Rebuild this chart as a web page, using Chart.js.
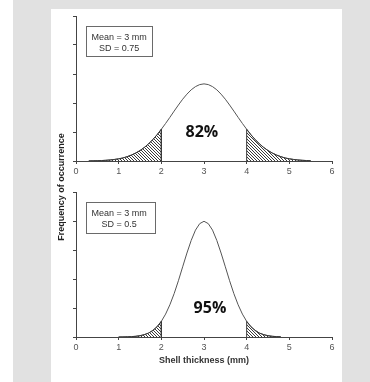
<!DOCTYPE html>
<html><head><meta charset="utf-8">
<script src="https://cdn.jsdelivr.net/npm/chart.js@4.4.1/dist/chart.umd.min.js"></script>
<style>
html,body{margin:0;padding:0;width:370px;height:382px;overflow:hidden;background:#fff;}
#bg{position:absolute;left:13px;top:0;width:357px;height:382px;background:#e1e1e1;}
#panel{position:absolute;left:51px;top:9px;width:291px;height:373px;background:#fff;}
.wrap{position:absolute;left:0;top:0;width:370px;height:382px;}
</style></head><body>
<div id="bg"></div><div id="panel"></div>
<div class="wrap"><canvas id="c1" width="370" height="382"></canvas></div>
<div class="wrap"><canvas id="c2" width="370" height="382"></canvas></div>
<script>
// ---- data ----
const thicknessTop = [0.3,0.4,0.5,0.6,0.7,0.8,0.9,1.0,1.1,1.2,1.3,1.4,1.5,1.6,1.7,1.8,1.9,2.0,2.1,2.2,2.3,2.4,2.5,2.6,2.7,2.8,2.9,3.0,
  3.1,3.2,3.3,3.4,3.5,3.6,3.7,3.8,3.9,4.0,4.1,4.2,4.3,4.4,4.5,4.6,4.7,4.8,4.9,5.0,5.1,5.2,5.3,5.4,5.5];
const frequencyTop = [0.0008,0.0013,0.0021,0.0032,0.0048,0.0072,0.0106,0.015,0.021,0.030,0.041,0.055,0.072,0.093,0.118,0.148,0.181,0.219,
  0.259,0.301,0.344,0.386,0.426,0.461,0.491,0.513,0.527,0.532,
  0.527,0.513,0.491,0.461,0.426,0.386,0.344,0.301,0.259,0.219,0.181,0.148,0.118,0.093,0.072,0.055,0.041,0.030,0.021,0.015,0.0106,0.0072,0.0048,0.0032,0.0021];
const thicknessBottom = [1.0,1.1,1.2,1.3,1.4,1.5,1.6,1.7,1.8,1.9,2.0,2.1,2.2,2.3,2.4,2.5,2.6,2.7,2.8,2.9,3.0,
  3.1,3.2,3.3,3.4,3.5,3.6,3.7,3.8,3.9,4.0,4.1,4.2,4.3,4.4,4.5,4.6,4.7,4.8];
const frequencyBottom = [0.0003,0.0006,0.0012,0.0025,0.0048,0.0089,0.016,0.027,0.045,0.071,0.108,0.158,0.222,0.299,0.388,0.484,0.579,0.666,0.737,0.782,0.798,
  0.782,0.737,0.666,0.579,0.484,0.388,0.299,0.222,0.158,0.108,0.071,0.045,0.027,0.016,0.0089,0.0048,0.0025,0.0012];
const xTickValues = [0,1,2,3,4,5,6];
const yTickValues = [0,0.2,0.4,0.6,0.8,1.0];
const tailLimits = [2,4];
const boxTextTop = ['Mean = 3 mm','SD = 0.75'];
const boxTextBottom = ['Mean = 3 mm','SD = 0.5'];
const pctTop = '82%';
const pctBottom = '95%';
const yTitle = 'Frequency of occurrence';
const xTitle = 'Shell thickness (mm)';

// ---- helpers ----
function pts(xs, ys){ return xs.map((x,i)=>({x:x,y:ys[i]})); }
function leftTail(xs, ys){ const p = pts(xs,ys).filter(q=>q.x <= tailLimits[0]+1e-9); p.push({x:tailLimits[0],y:0}); return p; }
function rightTail(xs, ys){ const p = pts(xs,ys).filter(q=>q.x >= tailLimits[1]-1e-9); p.unshift({x:tailLimits[1],y:0}); return p; }

const pc = document.createElement('canvas'); pc.width = 3; pc.height = 3;
const pctx = pc.getContext('2d'); pctx.fillStyle = '#3a3a3a';
for (let i=0;i<3;i++) pctx.fillRect(i,i,1,1);
const hatch = document.getElementById('c1').getContext('2d').createPattern(pc,'repeat');

const FONT = '"Liberation Sans", Arial, sans-serif';

const annot = {
  id:'annot',
  afterDraw(chart, args, o){
    const {ctx, scales:{x,y}} = chart;
    ctx.save();
    const l = Math.round(x.getPixelForValue(o.box[0])), r = Math.round(x.getPixelForValue(o.box[1]));
    const t = Math.round(y.getPixelForValue(o.box[2])), b = Math.round(y.getPixelForValue(o.box[3]));
    ctx.strokeStyle = '#6a6a6a'; ctx.lineWidth = 1;
    ctx.strokeRect(l+0.5, t+0.5, r-l, b-t);
    ctx.fillStyle = '#333'; ctx.font = '9px ' + FONT; ctx.textAlign = 'center'; ctx.textBaseline = 'middle';
    o.lines.forEach((s,i)=>ctx.fillText(s, x.getPixelForValue(o.textX), y.getPixelForValue(o.lineY[i])));
    ctx.font = 'bold 16px "Open Sans", sans-serif'; ctx.fillStyle = '#111';
    ctx.fillText(o.pct, x.getPixelForValue(o.pctX), y.getPixelForValue(o.pctY));
    if (o.yTitle) {
      ctx.translate(62, 187); ctx.rotate(-Math.PI/2);
      ctx.font = 'bold 9px ' + FONT; ctx.fillStyle = '#222';
      ctx.fillText(o.yTitle, 0, 0);
    }
    ctx.restore();
  }
};

function makeChart(id, xs, ys, pad, xHeight, showTitle, annOpts){
  return new Chart(document.getElementById(id), {
    type:'line',
    data:{ datasets:[
      {data:leftTail(xs,ys), borderColor:'#3a3a3a', borderWidth:1, backgroundColor:hatch, fill:'origin', pointRadius:0, tension:0},
      {data:rightTail(xs,ys), borderColor:'#3a3a3a', borderWidth:1, backgroundColor:hatch, fill:'origin', pointRadius:0, tension:0},
      {data:pts(xs,ys), borderColor:'#555', borderWidth:1, fill:false, pointRadius:0, tension:0}
    ]},
    options:{
      responsive:false, animation:false, devicePixelRatio:1,
      layout:{padding:pad},
      plugins:{legend:{display:false}, tooltip:{enabled:false}, annot:annOpts},
      scales:{
        x:{type:'linear', min:0, max:6,
          afterBuildTicks:s=>{ s.ticks = xTickValues.map(v=>({value:v})); },
          afterFit:s=>{ s.height = xHeight; },
          ticks:{color:'#555', font:{size:9, family:FONT}, padding:2, maxRotation:0, autoSkip:false},
          grid:{display:true, drawOnChartArea:false, drawTicks:true, tickLength:3, color:'#444'},
          border:{display:true, color:'#444', width:1},
          title:{display:showTitle, text:xTitle, color:'#333', font:{size:9, weight:'bold', family:FONT}, padding:{top:0,bottom:1}}
        },
        y:{type:'linear', min:0, max:1,
          afterBuildTicks:s=>{ s.ticks = yTickValues.map(v=>({value:v})); },
          afterFit:s=>{ s.width = 10; },
          ticks:{display:false},
          grid:{display:true, drawOnChartArea:false, drawTicks:true, tickLength:3, color:'#444'},
          border:{display:true, color:'#444', width:1}
        }
      }
    },
    plugins:[annot]
  });
}

makeChart('c1', thicknessTop, frequencyTop, {left:66, right:38, top:16, bottom:201}, 20, false,
  {box:[0.23,1.78,0.93,0.725], lines:boxTextTop, textX:1.01, lineY:[0.853,0.777], pct:pctTop, pctX:2.95, pctY:0.2, yTitle:yTitle});
makeChart('c2', thicknessBottom, frequencyBottom, {left:66, right:38, top:192, bottom:15}, 30, true,
  {box:[0.23,1.85,0.93,0.715], lines:boxTextBottom, textX:1.01, lineY:[0.853,0.779], pct:pctBottom, pctX:3.14, pctY:0.198});
</script>
</body></html>
